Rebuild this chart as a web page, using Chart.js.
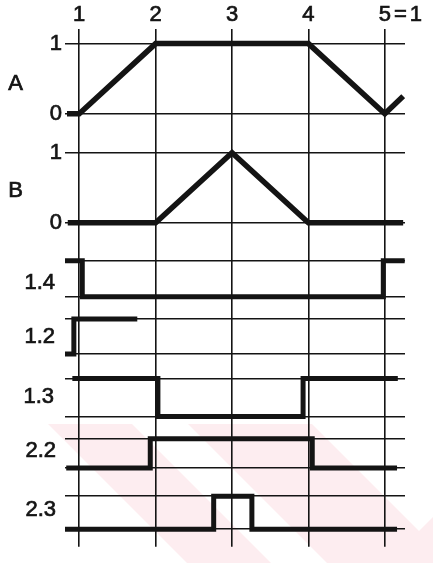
<!DOCTYPE html>
<html>
<head>
<meta charset="utf-8">
<script src="https://cdn.jsdelivr.net/npm/chart.js@4/dist/chart.umd.min.js"></script>
<style>
  html, body { margin: 0; padding: 0; background: #fff; }
  #wrap { width: 433px; height: 563px; position: relative; }
</style>
</head>
<body>
<div id="wrap"><canvas id="c"></canvas></div>
<script>
// Time marks along the top edge
const timeMarks = [1, 2, 3, 4, 5];
const timeLabels = ['1', '2', '3', '4', '5=1'];

// Row names, top to bottom
const rowNames = ['A', 'B', '1.4', '1.2', '1.3', '2.2', '2.3'];

// Level tick labels of the two analogue rows
const levelTicks = [0, 1];

// Analogue traces (linear between points)
const aTime  = [0.84, 1, 2, 4, 5, 5.24];
const aLevel = [0, 0, 1, 1, 0, 0.25];
const bTime  = [0.85, 2, 3, 4, 5.24];
const bLevel = [0, 0, 1, 0, 0];

// Switching traces (each level holds until the next change)
const s14Time  = [0.81, 1.04, 4.98, 5.26];
const s14Level = [1, 0, 1, 1];
const s12Time  = [0.81, 0.93, 1.76];
const s12Level = [0, 1, 1];
const s13Time  = [0.91, 2.03, 3.93, 5.17];
const s13Level = [1, 0, 1, 1];
const s22Time  = [0.83, 1.93, 4.05, 5.16];
const s22Level = [0, 1, 0, 0];
const s23Time  = [0.81, 2.76, 3.26, 5.16];
const s23Level = [0, 1, 0, 0];

// ---- layout (pixels) ----
const AREA_LEFT = 65, AREA_TOP = 29, AREA_RIGHT = 405, AREA_BOTTOM = 561;
const X_MIN = 0.814, X_MAX = 5.264;
// where level 1 and level 0 of every row sit, plus band edges
const rowGeom = [
  { one: 44,  zero: 116, labelRight: 23, labelDy: 5 },
  { one: 156, zero: 228, labelRight: 23, labelDy: 3 },
  { one: 267, zero: 304, labelRight: 55, labelDy: 4 },
  { one: 327, zero: 363, labelRight: 55, labelDy: 0 },
  { one: 388, zero: 427, labelRight: 54, labelDy: 0 },
  { one: 450, zero: 480, labelRight: 56, labelDy: -2 },
  { one: 509, zero: 543, labelRight: 56, labelDy: -3 }
];
const bandEdges = [AREA_TOP, 136, 247, 315, 375, 438, 494, AREA_BOTTOM];

const INK = '#141414';
const FONT = '"Liberation Sans", Arial, sans-serif';
const TEXT_STROKE = 0.7;

function trace(time, level) {
  return time.map((t, i) => ({ x: t, y: level[i] }));
}

// one stacked y axis per row
const scales = {
  x: {
    type: 'linear',
    position: 'top',
    min: X_MIN,
    max: X_MAX,
    afterBuildTicks: (axis) => { axis.ticks = timeMarks.map(v => ({ value: v })); },
    afterFit: (axis) => { axis.height = AREA_TOP; },
    ticks: { display: false },
    grid: { color: INK, lineWidth: 1.6, drawTicks: false },
    border: { display: false }
  }
};
rowNames.forEach((name, i) => {
  const g = rowGeom[i];
  const top = bandEdges[i], bottom = bandEdges[i + 1];
  const k = g.zero - g.one;
  const analogue = i < 2;
  scales['r' + i] = {
    type: 'linear',
    position: 'left',
    stack: 'rows',
    stackWeight: bottom - top,
    weight: 20 - i,
    min: -(bottom - g.zero) / k,
    max: 1 + (g.one - top) / k,
    afterBuildTicks: (axis) => { axis.ticks = levelTicks.map(v => ({ value: v })); },
    afterFit: (axis) => { axis.width = AREA_LEFT; },
    ticks: {
      display: analogue,
      padding: 3,
      color: INK,
      textStrokeColor: INK,
      textStrokeWidth: TEXT_STROKE,
      font: { family: FONT, size: 22 },
      callback: (v) => String(v)
    },
    grid: { color: INK, lineWidth: 1.6, drawTicks: false },
    border: { display: false }
  };
});

// faint diagonal tint across the lower rows
const tintPlugin = {
  id: 'tint',
  beforeDraw(chart) {
    const ctx = chart.ctx;
    const y0 = 424, y1 = chart.height;
    ctx.save();
    ctx.beginPath();
    ctx.rect(0, y0, chart.width, y1 - y0);
    ctx.clip();
    ctx.fillStyle = '#fdedf0';
    [[-376, -292], [-236, -112]].forEach(([a, b]) => {
      ctx.beginPath();
      ctx.moveTo(a + y0, y0); ctx.lineTo(b + y0, y0);
      ctx.lineTo(b + y1, y1); ctx.lineTo(a + y1, y1);
      ctx.closePath(); ctx.fill();
    });
    ctx.beginPath();
    ctx.moveTo(950 - y1, y1); ctx.lineTo(1020 - y1, y1);
    ctx.lineTo(1020 - y0, y0); ctx.lineTo(950 - y0, y0);
    ctx.closePath(); ctx.fill();
    ctx.restore();
  }
};

function inkText(ctx, text, x, y) {
  ctx.fillText(text, x, y);
  ctx.strokeText(text, x, y);
}

// row names on the left and time labels along the top
const labelPlugin = {
  id: 'rowLabels',
  afterDraw(chart) {
    const ctx = chart.ctx;
    ctx.save();
    ctx.fillStyle = INK;
    ctx.strokeStyle = INK;
    ctx.lineWidth = TEXT_STROKE;
    ctx.font = '22px ' + FONT;
    ctx.textAlign = 'right';
    ctx.textBaseline = 'middle';
    rowNames.forEach((name, i) => {
      const s = chart.scales['r' + i];
      inkText(ctx, name, rowGeom[i].labelRight, s.getPixelForValue(0.5) + rowGeom[i].labelDy);
    });
    const xs = chart.scales.x;
    ctx.textAlign = 'left';
    ctx.textBaseline = 'alphabetic';
    if ('letterSpacing' in ctx) ctx.letterSpacing = '3px';
    timeMarks.forEach((t, i) => {
      const label = timeLabels[i];
      const first = ctx.measureText(label[0]).width - 3;
      inkText(ctx, label, xs.getPixelForValue(t) - first / 2, 21);
    });
    ctx.restore();
  }
};

const lineStyle = {
  borderColor: INK,
  pointRadius: 0,
  fill: false,
  tension: 0,
  borderJoinStyle: 'miter',
  borderCapStyle: 'butt'
};

new Chart(document.getElementById('c'), {
  type: 'line',
  data: {
    datasets: [
      { ...lineStyle, label: 'A',   data: trace(aTime, aLevel),     yAxisID: 'r0', borderWidth: 5.5 },
      { ...lineStyle, label: 'B',   data: trace(bTime, bLevel),     yAxisID: 'r1', borderWidth: 5.5 },
      { ...lineStyle, label: '1.4', data: trace(s14Time, s14Level), yAxisID: 'r2', borderWidth: 5, stepped: true },
      { ...lineStyle, label: '1.2', data: trace(s12Time, s12Level), yAxisID: 'r3', borderWidth: 5, stepped: true },
      { ...lineStyle, label: '1.3', data: trace(s13Time, s13Level), yAxisID: 'r4', borderWidth: 5, stepped: true },
      { ...lineStyle, label: '2.2', data: trace(s22Time, s22Level), yAxisID: 'r5', borderWidth: 5, stepped: true },
      { ...lineStyle, label: '2.3', data: trace(s23Time, s23Level), yAxisID: 'r6', borderWidth: 5, stepped: true }
    ]
  },
  options: {
    responsive: true,
    maintainAspectRatio: false,
    animation: false,
    events: [],
    layout: { padding: { left: 0, top: 0, right: 433 - AREA_RIGHT, bottom: 563 - AREA_BOTTOM } },
    scales,
    plugins: {
      legend: { display: false },
      tooltip: { enabled: false }
    }
  },
  plugins: [tintPlugin, labelPlugin]
});
</script>
</body>
</html>
